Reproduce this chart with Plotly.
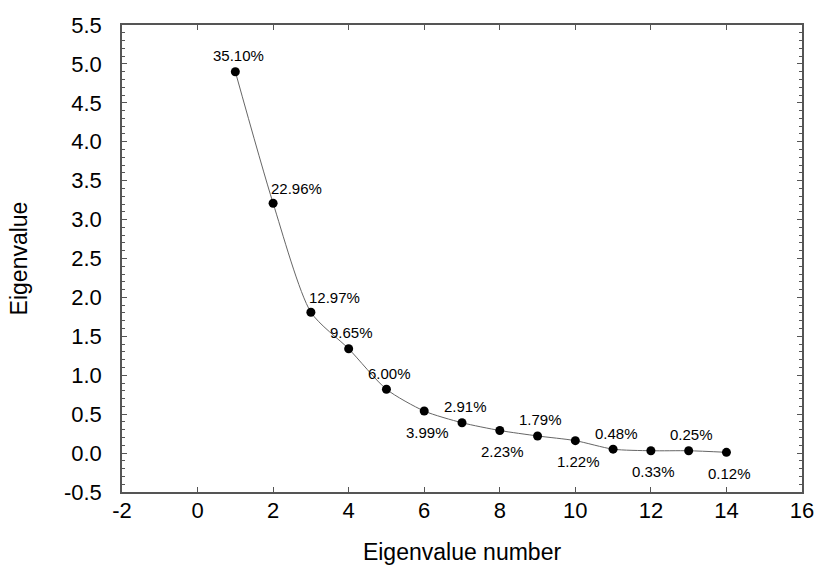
import plotly.graph_objects as go

# ---- data ----
eig_number = [1, 2, 3, 4, 5, 6, 7, 8, 9, 10, 11, 12, 13, 14]
eigenvalues = [4.90, 3.21, 1.81, 1.34, 0.82, 0.54, 0.39, 0.29, 0.22, 0.16, 0.05, 0.03, 0.03, 0.01]
pct_labels = ["35.10%", "22.96%", "12.97%", "9.65%", "6.00%", "3.99%", "2.91%",
              "2.23%", "1.79%", "1.22%", "0.48%", "0.33%", "0.25%", "0.12%"]
x_tick_values = [-2, 0, 2, 4, 6, 8, 10, 12, 14, 16]
y_tick_values = [-0.5, 0.0, 0.5, 1.0, 1.5, 2.0, 2.5, 3.0, 3.5, 4.0, 4.5, 5.0, 5.5]

# label placement style (not data)
placement = ["above", "above-right", "above-right", "above", "above", "below", "above",
             "below", "above", "below", "above", "below", "above", "below"]

FONT = "Liberation Sans, Arial, sans-serif"

fig = go.Figure()
fig.add_trace(go.Scatter(
    x=eig_number, y=eigenvalues, mode="lines+markers",
    line=dict(color="#666666", width=1, shape="spline", smoothing=0.7),
    marker=dict(color="black", size=9),
    showlegend=False, hoverinfo="skip",
))

for xv, yv, lab, pl in zip(eig_number, eigenvalues, pct_labels, placement):
    if pl == "above":
        kw = dict(xanchor="center", yanchor="middle", xshift=3, yshift=16)
    elif pl == "above-right":
        kw = dict(xanchor="left", yanchor="middle", xshift=-4, yshift=15)
    else:
        kw = dict(xanchor="center", yanchor="middle", xshift=3, yshift=-21)
    fig.add_annotation(x=xv, y=yv, text=lab, showarrow=False,
                       font=dict(family=FONT, size=15, color="black"), **kw)

axis_common = dict(
    showline=True, linecolor="#555555", linewidth=1.5, mirror="ticks",
    ticks="inside", tickcolor="#555555", showgrid=False, zeroline=False,
    automargin=False,
    tickfont=dict(family=FONT, size=22, color="black"),
)

fig.update_xaxes(
    range=[-2, 16], tickmode="array", tickvals=x_tick_values,
    ticktext=[f"{v:g}" for v in x_tick_values], ticklen=5, tickwidth=1,
    ticklabelstandoff=-2,
    title=dict(text="Eigenvalue number", font=dict(family=FONT, size=23, color="black"), standoff=24),
    **axis_common,
)
fig.update_yaxes(
    range=[-0.5, 5.5], tickmode="array", tickvals=y_tick_values,
    ticktext=[f"{v:.1f}" for v in y_tick_values], ticklen=5, tickwidth=1,
    ticklabelstandoff=14,
    minor=dict(ticks="inside", dtick=0.1, tick0=-0.5, ticklen=3, tickcolor="#555555", tickwidth=1, showgrid=False),
    title=dict(text="Eigenvalue", font=dict(family=FONT, size=23, color="black"), standoff=30),
    **axis_common,
)

fig.update_layout(
    width=815, height=565,
    margin=dict(l=122, r=13, t=25, b=73),
    plot_bgcolor="white", paper_bgcolor="white",
    font=dict(family=FONT, color="black"),
)

fig.write_html("out.html")
